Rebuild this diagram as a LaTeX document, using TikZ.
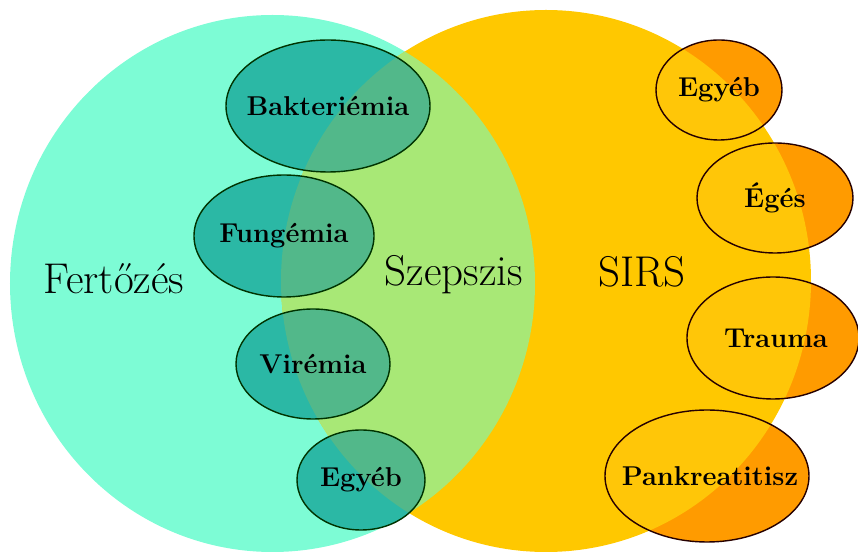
\documentclass[tikz,border=0pt]{standalone}
\usepackage{fontspec}
\usetikzlibrary{calc}

\definecolor{fertozes}{RGB}{125,252,213}
\definecolor{sirs}{RGB}{255,200,0}
\definecolor{szepszis}{RGB}{168,232,118}
\definecolor{kintteal}{RGB}{43,184,165}
\definecolor{bentteal}{RGB}{82,184,138}
\definecolor{kintnarancs}{RGB}{255,155,0}
\definecolor{bentsarga}{RGB}{255,198,8}

\tikzset{
	halmaz/.style={font=\fontsize{24.5}{28}\selectfont},
	kisfelirat/.style={font=\bfseries\fontsize{15.5}{18}\selectfont},
	kiskor/.style={draw=black!80!green, line width=0.8pt}
}

\begin{document}
\begin{tikzpicture}
	\useasboundingbox (0,0) rectangle (17.16,11.08);

	% define the centres of the two big sets
	\coordinate (L) at (5.45,5.41);
	\coordinate (R) at (10.92,5.46);

	% define the centres of the small sets
	\coordinate (bakt) at (6.56,8.96);
	\coordinate (fung) at (5.68,6.36);
	\coordinate (vir) at (6.26,3.80);
	\coordinate (egyL) at (7.22,1.48);
	\coordinate (egyR) at (14.38,9.28);
	\coordinate (eges) at (15.50,7.12);
	\coordinate (trau) at (15.46,4.32);
	\coordinate (pank) at (14.14,1.56);

	% fill the two big sets and their overlap
	\fill[fertozes] (L) ellipse [x radius=5.25cm, y radius=5.37cm];
	\fill[sirs] (R) ellipse [x radius=5.30cm, y radius=5.42cm];
	\begin{scope}
		\clip (L) ellipse [x radius=5.25cm, y radius=5.37cm];
		\fill[szepszis] (R) ellipse [x radius=5.30cm, y radius=5.42cm];
	\end{scope}

	% the infections, darker where they lie in SIRS
	\foreach \n/\a/\b in {bakt/2.04/1.32, fung/1.80/1.22, vir/1.54/1.10, egyL/1.28/1.00}{
		\fill[kintteal] (\n) ellipse [x radius=\a cm, y radius=\b cm];
		\begin{scope}
			\clip (R) ellipse [x radius=5.30cm, y radius=5.42cm];
			\fill[bentteal] (\n) ellipse [x radius=\a cm, y radius=\b cm];
		\end{scope}
		\draw[kiskor] (\n) ellipse [x radius=\a cm, y radius=\b cm];
	}

	% the other causes of SIRS, orange outside the big set
	\foreach \n/\a/\b in {egyR/1.26/1.00, eges/1.56/1.10, trau/1.72/1.22, pank/2.04/1.32}{
		\fill[kintnarancs] (\n) ellipse [x radius=\a cm, y radius=\b cm];
		\begin{scope}
			\clip (R) ellipse [x radius=5.30cm, y radius=5.42cm];
			\fill[bentsarga] (\n) ellipse [x radius=\a cm, y radius=\b cm];
		\end{scope}
		\draw[kiskor, draw=black!85!red] (\n) ellipse [x radius=\a cm, y radius=\b cm];
	}

	% label the big sets
	\node[halmaz] (fertozesfel) at (2.28,5.50) {Fertőzés};
	\node[halmaz] (szepszisfel) at (9.08,5.58) {Szepszis};
	\node[halmaz] (sirsfel) at (12.84,5.64) {SIRS};

	% label the small sets
	\node[kisfelirat] (baktfel) at (bakt) {Bakteriémia};
	\node[kisfelirat] (fungfel) at (fung) {Fungémia};
	\node[kisfelirat] (virfel) at (vir) {Virémia};
	\node[kisfelirat] (egyLfel) at (egyL) {Egyéb};
	\node[kisfelirat] (egyRfel) at (egyR) {Egyéb};
	\node[kisfelirat] (egesfel) at (eges) {Égés};
	\node[kisfelirat] (traufel) at ($(trau)+(0.06,0)$) {Trauma};
	\node[kisfelirat] (pankfel) at ($(pank)+(0.06,0)$) {Pankreatitisz};
\end{tikzpicture}
\end{document}
